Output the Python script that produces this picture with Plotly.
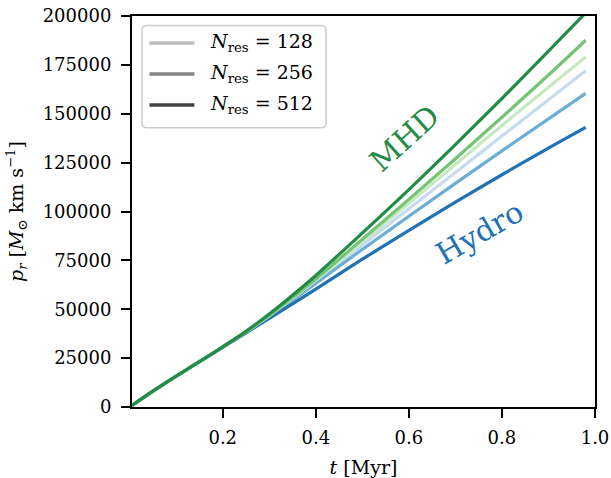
import plotly.graph_objects as go

# ---------------- data ----------------
t = [0.005, 0.05, 0.1, 0.15, 0.2, 0.25, 0.3, 0.35, 0.4, 0.5, 0.6, 0.7, 0.8, 0.9, 0.98]
hydro_128 = [800, 8100, 15800, 23200, 30700, 38300, 46400, 55100, 64000, 82800, 101400, 120000, 138600, 157200, 172000]
hydro_256 = [800, 8100, 15800, 23200, 30700, 38200, 46000, 54500, 63200, 80600, 97600, 114400, 131000, 147400, 160400]
hydro_512 = [800, 8100, 15800, 23200, 30500, 37900, 45300, 52800, 60300, 75600, 90400, 104800, 118800, 132400, 143000]
mhd_128 = [800, 8100, 15800, 23200, 30700, 38400, 46600, 55600, 64800, 84600, 104200, 124000, 144000, 163600, 179000]
mhd_256 = [800, 8100, 15800, 23200, 30700, 38500, 46900, 56100, 65500, 85800, 106200, 127000, 148200, 169800, 187600]
mhd_512 = [800, 8100, 15800, 23200, 30800, 38700, 47600, 57200, 67300, 89000, 111200, 134200, 157800, 182000, 201600]

resolutions = ["128", "256", "512"]
hydro_series = [hydro_128, hydro_256, hydro_512]
mhd_series = [mhd_128, mhd_256, mhd_512]
hydro_colors = ["#c6dbef", "#6baed6", "#2171b5"]
mhd_colors = ["#c7e9c0", "#74c476", "#238b45"]
legend_grays = ["#bdbdbd", "#858585", "#424242"]

x_ticks = [0.2, 0.4, 0.6, 0.8, 1.0]
y_ticks = [0, 25000, 50000, 75000, 100000, 125000, 150000, 175000, 200000]

FONT = "DejaVu Serif"

fig = go.Figure()
for ys, c in zip(hydro_series, hydro_colors):
    fig.add_trace(go.Scatter(x=t, y=ys, mode="lines", line=dict(color=c, width=3.2, shape="spline", smoothing=1.0),
                             showlegend=False, hoverinfo="skip"))
for ys, c in zip(mhd_series, mhd_colors):
    fig.add_trace(go.Scatter(x=t, y=ys, mode="lines", line=dict(color=c, width=3.2, shape="spline", smoothing=1.0),
                             showlegend=False, hoverinfo="skip"))

# plot area in pixels
L, R, T, B = 131.5, 595.5, 16.0, 407.5
W, H = R - L, B - T

def px(xp):
    return (xp - L) / W

def py(yp):
    return (B - yp) / H

# manual legend box (rounded)
x0, x1, y0, y1 = px(141.5), px(326), py(25.5), py(128)
rx, ry = 5 / W, 5 / H
path = (f"M{x0+rx},{y0} L{x1-rx},{y0} Q{x1},{y0} {x1},{y0-ry} "
        f"L{x1},{y1+ry} Q{x1},{y1} {x1-rx},{y1} L{x0+rx},{y1} Q{x0},{y1} {x0},{y1+ry} "
        f"L{x0},{y0-ry} Q{x0},{y0} {x0+rx},{y0} Z")
shapes = [dict(type="path", xref="paper", yref="paper", path=path,
               line=dict(color="#cccccc", width=1.5), fillcolor="rgba(255,255,255,0.85)")]
annotations = []
row_y = [43, 74, 105]
for lab, g, ry_ in zip(resolutions, legend_grays, row_y):
    shapes.append(dict(type="line", xref="paper", yref="paper", x0=px(149), x1=px(194),
                       y0=py(ry_), y1=py(ry_), line=dict(color=g, width=3.5)))
    annotations.append(dict(xref="paper", yref="paper", x=px(208), y=py(ry_), xanchor="left", yanchor="middle",
                            text=f"<i>N</i><sub>res</sub> = {lab}", showarrow=False,
                            font=dict(family=FONT, size=19, color="black")))

annotations.append(dict(x=0.59, y=137500, xref="x", yref="y", text="MHD", showarrow=False, textangle=-42,
                        font=dict(family=FONT, size=30, color="#238b45")))
annotations.append(dict(x=0.752, y=89500, xref="x", yref="y", text="Hydro", showarrow=False, textangle=-30,
                        font=dict(family=FONT, size=30, color="#2171b5")))

fig.update_layout(
    width=611, height=478,
    margin=dict(l=L, r=611 - R, t=T, b=478 - B, pad=0),
    paper_bgcolor="white", plot_bgcolor="white",
    font=dict(family=FONT, size=18, color="black"),
    shapes=shapes, annotations=annotations,
    xaxis=dict(range=[0.005, 1.0], tickvals=x_ticks, tickformat=".1f", showgrid=False, zeroline=False,
               showline=True, linecolor="black", linewidth=2, mirror=True, automargin=False,
               ticks="outside", ticklen=9, tickwidth=1.6, tickcolor="black", ticklabelstandoff=4,
               tickfont=dict(family=FONT, size=18),
               title=dict(text="<i>t</i> [Myr]", font=dict(family=FONT, size=19), standoff=14)),
    yaxis=dict(range=[0, 200000], tickvals=y_ticks, tickformat="d", showgrid=False, zeroline=False,
               showline=True, linecolor="black", linewidth=2, mirror=True, automargin=False,
               ticks="outside", ticklen=9, tickwidth=1.6, tickcolor="black", ticklabelstandoff=6,
               tickfont=dict(family=FONT, size=18),
               title=dict(text="<i>p<sub>r</sub></i> [<i>M</i><sub>⊙</sub> km s<sup>−1</sup>]",
                          font=dict(family=FONT, size=19), standoff=14)),
)

fig.write_html("out.html")
